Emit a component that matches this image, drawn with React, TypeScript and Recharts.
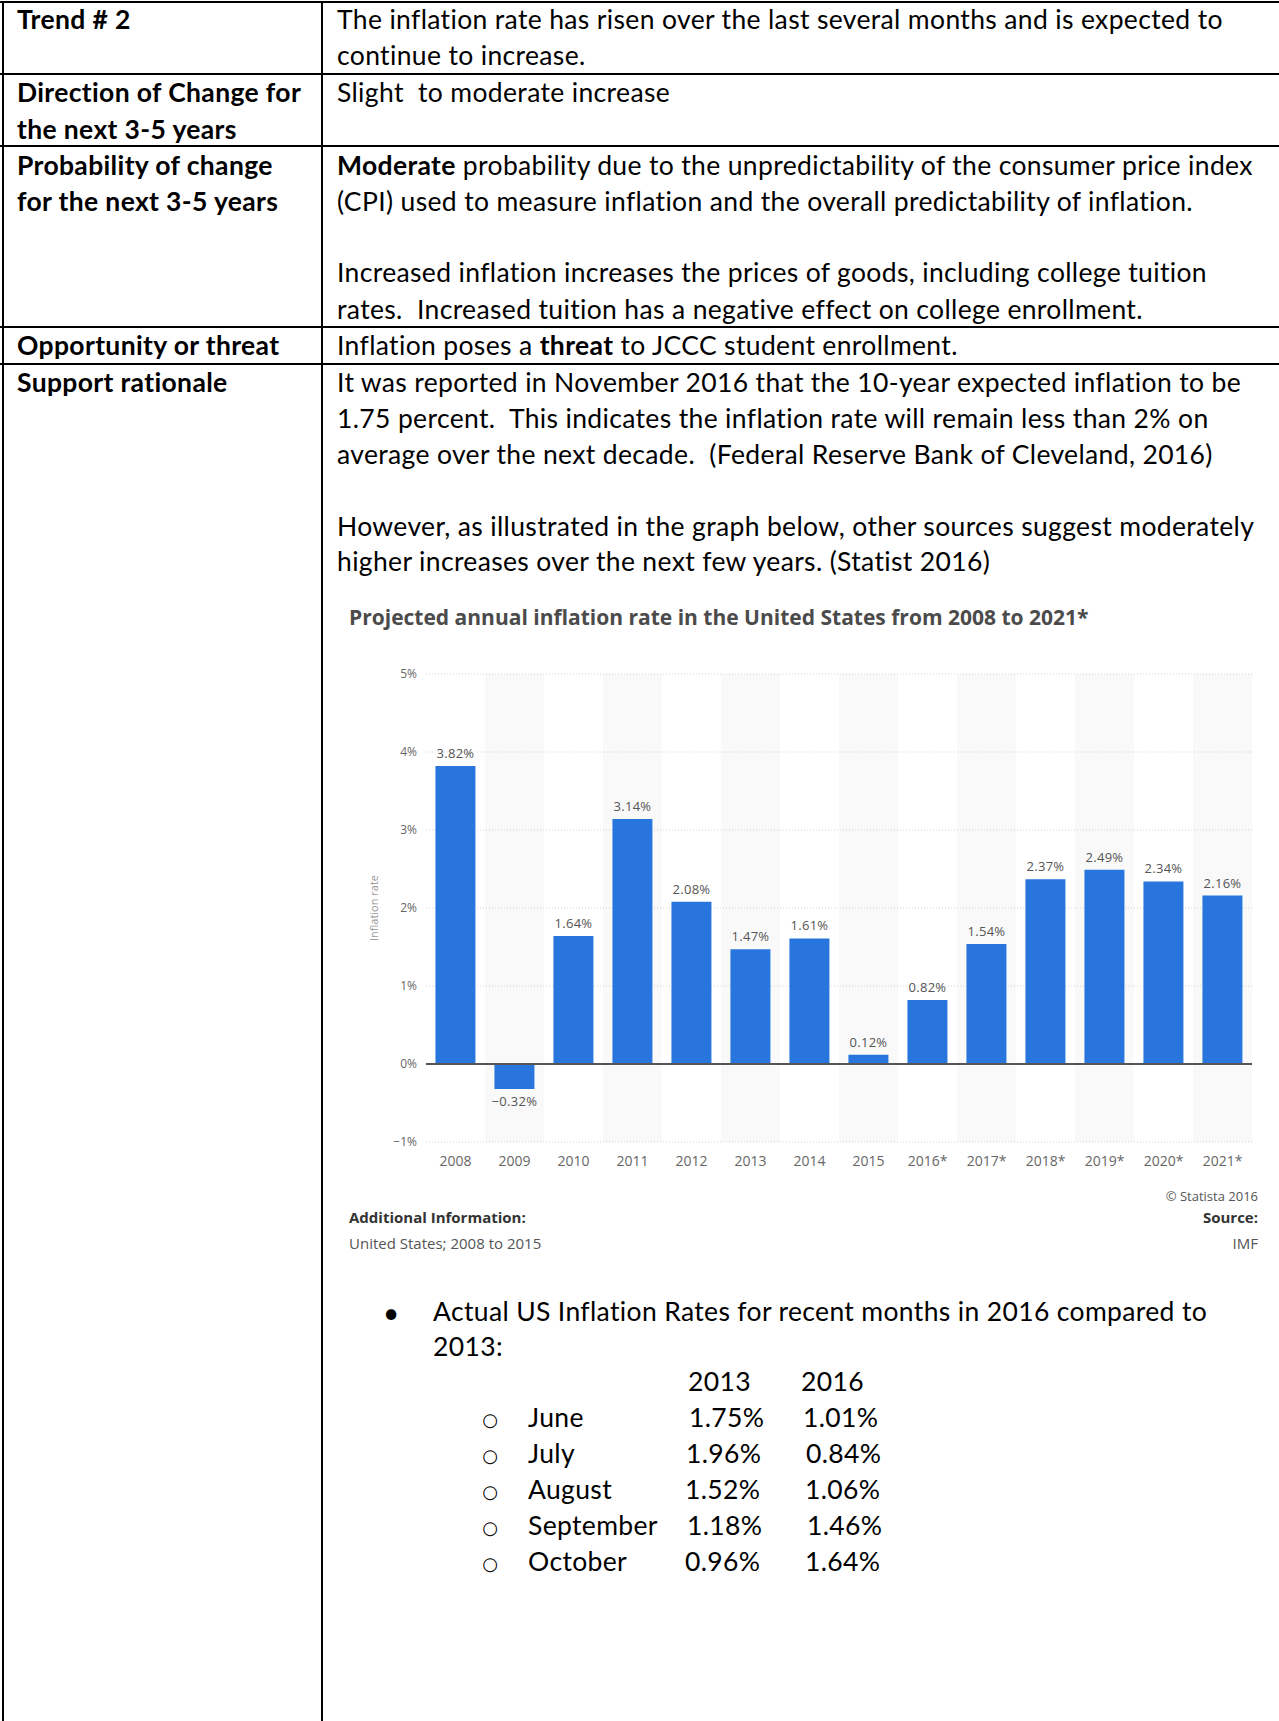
import { BarChart, Bar, XAxis, YAxis, CartesianGrid, ReferenceLine, LabelList } from 'recharts';
import type { ReactNode } from 'react';

const years = ['2008', '2009', '2010', '2011', '2012', '2013', '2014', '2015', '2016*', '2017*', '2018*', '2019*', '2020*', '2021*'];
const inflationRates = [3.82, -0.32, 1.64, 3.14, 2.08, 1.47, 1.61, 0.12, 0.82, 1.54, 2.37, 2.49, 2.34, 2.16];
const yTicks = [-1, 0, 1, 2, 3, 4, 5];

const months = ['June', 'July', 'August', 'September', 'October'];
const rates2013 = ['1.75%', '1.96%', '1.52%', '1.18%', '0.96%'];
const rates2016 = ['1.01%', '0.84%', '1.06%', '1.46%', '1.64%'];

const chartData = years.map((year, i) => ({ year, rate: inflationRates[i] }));

const chartFont = '"Open Sans", sans-serif';
const docFont = 'Lato, sans-serif';
const minus = (s: string) => s.replace('-', '\u2212');
const pct = (v: number) => minus(`${v}%`);

// grey stripes on every other year: edges of each category band
const bandEdges = ({ offset }: any) => {
    const step = offset.width / years.length;
    return years.map((_, i) => offset.left + i * step);
};

// tabbed columns in the bullet list don't line up exactly in the original
const col2013X = [689, 686, 685, 687, 685];
const col2016X = [803, 806, 805, 807, 805];

function Line({ x, y, bold, children }: { x: number; y: number; bold?: boolean; children: ReactNode }) {
    return (
        <div
            style={{
                position: 'absolute', left: x, top: y - 18, lineHeight: '34px', whiteSpace: 'pre',
                fontSize: 26.5, letterSpacing: 0.35, fontFamily: docFont, fontWeight: bold ? 700 : 400, color: '#000',
            }}
        >
            {children}
        </div>
    );
}

function Rule({ x, y, w, h }: { x: number; y: number; w: number; h: number }) {
    return <div style={{ position: 'absolute', left: x, top: y, width: w, height: h, background: '#000' }} />;
}

function InflationChart() {
    return (
        <div style={{ position: 'absolute', left: 330, top: 640, width: 940, height: 560 }}>
            <BarChart width={940} height={560} data={chartData} margin={{ top: 34, right: 18, left: 0, bottom: 28 }} barCategoryGap="16%">
                <CartesianGrid horizontal={false} stroke="transparent" verticalFill={['#ffffff', '#f9f9f9']} verticalCoordinatesGenerator={bandEdges} />
                <CartesianGrid vertical={false} stroke="#d4d4d4" strokeDasharray="1 2" />
                <XAxis
                    dataKey="year" interval={0} axisLine={false} tickLine={false} tickSize={0} tickMargin={14} height={30}
                    tick={{ fill: '#666', fontSize: 14, fontFamily: chartFont }}
                />
                <YAxis
                    domain={[-1, 5]} ticks={yTicks} tickFormatter={pct} axisLine={false} tickLine={false} tickSize={0} tickMargin={9} width={96}
                    tick={{ fill: '#666', fontSize: 12, fontFamily: chartFont }}
                    label={{ value: 'Inflation rate', angle: -90, position: 'insideLeft', offset: 44, style: { textAnchor: 'middle', fill: '#999', fontSize: 11, fontFamily: chartFont } }}
                />
                <Bar dataKey="rate" fill="#2876dd" isAnimationActive={false}>
                    <LabelList dataKey="rate" position="top" offset={8} formatter={(v: any) => minus(`${Number(v).toFixed(2)}%`)} style={{ fill: '#555', fontSize: 13, fontFamily: chartFont, letterSpacing: 0.3 }} />
                </Bar>
                <ReferenceLine y={0} stroke="#555" strokeWidth={2} />
            </BarChart>
        </div>
    );
}

export default function App() {
    const small = { position: 'absolute' as const, fontFamily: chartFont, fontSize: 15, lineHeight: '20px', whiteSpace: 'pre' as const };
    return (
        <div style={{ position: 'absolute', left: 0, top: 0, width: 1279, height: 1721, background: '#fff', overflow: 'hidden' }}>
            {/* table rules */}
            <Rule x={0} y={1} w={1279} h={2} />
            <Rule x={0} y={73} w={1279} h={2} />
            <Rule x={0} y={145} w={1279} h={2} />
            <Rule x={0} y={326} w={1279} h={2} />
            <Rule x={0} y={363} w={1279} h={2} />
            <Rule x={2} y={1} w={2} h={1720} />
            <Rule x={321} y={1} w={2} h={1720} />

            <Line x={17} y={20} bold>Trend # 2</Line>
            <Line x={17} y={93} bold>Direction of Change for</Line>
            <Line x={17} y={130} bold>the next 3-5 years</Line>
            <Line x={17} y={166} bold>Probability of change</Line>
            <Line x={17} y={202} bold>for the next 3-5 years</Line>
            <Line x={17} y={346} bold>Opportunity or threat</Line>
            <Line x={17} y={383} bold>Support rationale</Line>

            <Line x={337} y={20}>The inflation rate has risen over the last several months and is expected to</Line>
            <Line x={337} y={56}>continue to increase.</Line>
            <Line x={337} y={93}>Slight  to moderate increase</Line>
            <Line x={337} y={166}><b>Moderate</b> probability due to the unpredictability of the consumer price index</Line>
            <Line x={337} y={202}>(CPI) used to measure inflation and the overall predictability of inflation.</Line>
            <Line x={337} y={273}>Increased inflation increases the prices of goods, including college tuition</Line>
            <Line x={337} y={310}>rates.  Increased tuition has a negative effect on college enrollment.</Line>
            <Line x={337} y={346}>Inflation poses a <b>threat</b> to JCCC student enrollment.</Line>
            <Line x={337} y={383}>It was reported in November 2016 that the 10-year expected inflation to be</Line>
            <Line x={337} y={419}>1.75 percent.  This indicates the inflation rate will remain less than 2% on</Line>
            <Line x={337} y={455}>average over the next decade.  (Federal Reserve Bank of Cleveland, 2016)</Line>
            <Line x={337} y={527}>However, as illustrated in the graph below, other sources suggest moderately</Line>
            <Line x={337} y={562}>higher increases over the next few years. (Statist 2016)</Line>

            {/* chart block */}
            <div style={{ ...small, left: 349, top: 602, fontSize: 21, lineHeight: '30px', fontWeight: 700, color: '#4b4b4b' }}>
                Projected annual inflation rate in the United States from 2008 to 2021*
            </div>
            <InflationChart />
            <div style={{ ...small, right: 21, top: 1186, fontSize: 13, color: '#555' }}>© Statista 2016</div>
            <div style={{ ...small, left: 349, top: 1207, fontWeight: 700, color: '#333' }}>Additional Information:</div>
            <div style={{ ...small, left: 349, top: 1233, color: '#555' }}>United States; 2008 to 2015</div>
            <div style={{ ...small, right: 21, top: 1207, fontWeight: 700, color: '#333' }}>Source:</div>
            <div style={{ ...small, right: 21, top: 1233, color: '#555' }}>IMF</div>

            {/* bullet list */}
            <div style={{ position: 'absolute', left: 376, top: 1292, width: 30, textAlign: 'center', fontSize: 28, lineHeight: '40px', fontFamily: docFont }}>•</div>
            <Line x={433} y={1312}>Actual US Inflation Rates for recent months in 2016 compared to</Line>
            <Line x={433} y={1347}>2013:</Line>
            <Line x={688} y={1382}>2013</Line>
            <Line x={801} y={1382}>2016</Line>
            {months.map((m, i) => (
                <div key={m}>
                    <div style={{ position: 'absolute', left: 475, top: 1405 + i * 36, width: 30, textAlign: 'center', fontSize: 18, lineHeight: '30px', fontFamily: '"DejaVu Sans", sans-serif' }}>○</div>
                    <Line x={528} y={1418 + i * 36}>{m}</Line>
                    <Line x={col2013X[i]} y={1418 + i * 36}>{rates2013[i]}</Line>
                    <Line x={col2016X[i]} y={1418 + i * 36}>{rates2016[i]}</Line>
                </div>
            ))}
        </div>
    );
}
